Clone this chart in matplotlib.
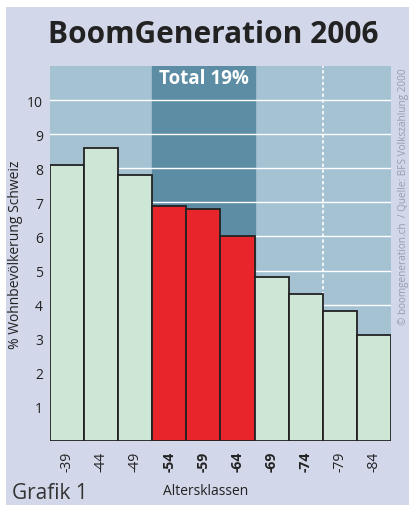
import matplotlib.pyplot as plt
from matplotlib.patches import Rectangle

plt.rcParams['font.family'] = ['Open Sans', 'DejaVu Sans']

klassen = ['-39', '-44', '-49', '-54', '-59', '-64', '-69', '-74', '-79', '-84']
anteil = [8.1, 8.6, 7.8, 6.9, 6.8, 6.0, 4.8, 4.3, 3.8, 3.1]
boomer = [False, False, False, True, True, True, False, False, False, False]
fett = [False, False, False, True, True, True, True, True, False, False]

bg = '#d3d7ea'
hell = '#a5c2d3'
dunkel = '#5c8da4'
gruen = '#cde6d6'
rot = '#e8252a'

fig = plt.figure(figsize=(4.1, 5.06), dpi=100, facecolor=bg)
# weisser Rand links und oben
fig.patches.append(Rectangle((0, 0), 6 / 410, 1, transform=fig.transFigure,
                             facecolor='white', edgecolor='none'))
fig.patches.append(Rectangle((0, 1 - 8 / 506), 1, 8 / 506, transform=fig.transFigure,
                             facecolor='white', edgecolor='none'))

ax = fig.add_axes([50 / 410, 1 - 442 / 506, 341 / 410, 375 / 506])
ax.set_facecolor(hell)
x = list(range(len(klassen)))
ax.axvspan(2.5, 5.5, color=dunkel, zorder=0)
ax.axvline(7.5, color='white', lw=1.2, ls=(0, (2, 1.5)), zorder=1)
for v in range(1, 11):
    ax.axhline(v, color='white', lw=1.0, zorder=1)

farben = [rot if b else gruen for b in boomer]
ax.bar(x, anteil, width=1.0, color=farben, edgecolor='#222222', linewidth=1.3, zorder=2)

ax.set_xlim(-0.5, 9.5)
ax.set_ylim(0, 11)
ax.set_yticks(range(1, 11))
ax.set_xticks(x)
ax.set_xticklabels(klassen, rotation=90)
for lab, f in zip(ax.get_xticklabels(), fett):
    if f:
        lab.set_fontweight('bold')
ax.tick_params(length=0, labelsize=10, colors='#222222')
ax.tick_params(axis='y', pad=5)
ax.tick_params(axis='x', pad=7)
for s in ax.spines.values():
    s.set_visible(False)

ax.set_ylabel('% Wohnbevölkerung Schweiz', fontsize=10, color='#222222')
ax.yaxis.set_label_coords(-27 / 341, 0.5)
ax.set_xlabel('Altersklassen', fontsize=10, color='#222222')
ax.xaxis.set_label_coords(0.455, -0.113)

ax.text(4.0, 10.65, 'Total 19%', color='white', fontsize=13.5, fontweight='bold',
        ha='center', va='center')

fig.text(0.52, 0.931, 'BoomGeneration 2006', fontsize=21.5, fontweight='bold',
         color='#222222', ha='center', va='center')
fig.text(404 / 410, 1 - 197 / 506, '© boomgeneration.ch  / Quelle: BFS Volkszählung 2000',
         rotation=90, fontsize=7.2, color='#979cb0', ha='center', va='center')
fig.text(12 / 410, 2 / 506, 'Grafik 1', fontsize=15, color='#333333',
         ha='left', va='bottom')

fig.savefig('out.png', dpi=100, facecolor=fig.get_facecolor())
